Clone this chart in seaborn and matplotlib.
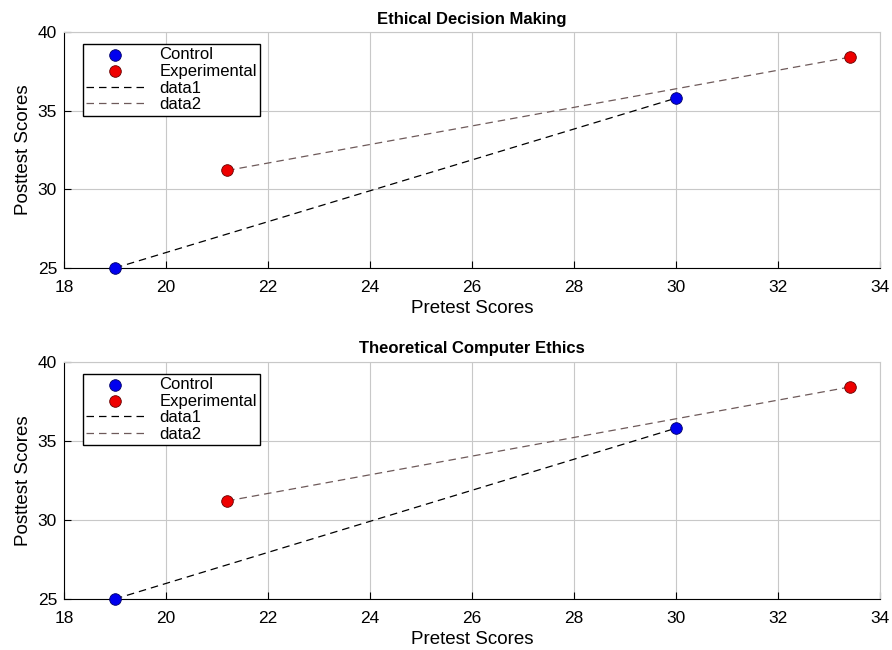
import matplotlib
matplotlib.use('Agg')
import matplotlib.pyplot as plt
import seaborn as sns
import pandas as pd

# values
titles = ['Ethical Decision Making', 'Theoretical Computer Ethics']
control_pre = [19.0, 30.0]
control_post = [25.0, 35.8]
exp_pre = [21.2, 33.4]
exp_post = [31.2, 38.4]
x_ticks = [18, 20, 22, 24, 26, 28, 30, 32, 34]
y_ticks = [25, 30, 35, 40]

sns.set_style('white')
plt.rcParams['font.family'] = ['Liberation Sans', 'DejaVu Sans']
plt.rcParams['text.color'] = 'black'
plt.rcParams['axes.labelcolor'] = 'black'

control = pd.DataFrame({'Pretest': control_pre, 'Posttest': control_post})
experimental = pd.DataFrame({'Pretest': exp_pre, 'Posttest': exp_post})

fig = plt.figure(figsize=[8.92, 6.5], dpi=100)
axes = [fig.add_axes([0.0717, 0.5877, 0.915, 0.363]),
        fig.add_axes([0.0717, 0.0785, 0.915, 0.365])]

for ax, title in zip(axes, titles):
    # dashed connecting lines
    sns.lineplot(data=control, x='Pretest', y='Posttest', ax=ax, color='black',
                 linestyle=(0, (6, 4)), linewidth=0.9, estimator=None, sort=False,
                 label='data1', dashes=False)
    sns.lineplot(data=experimental, x='Pretest', y='Posttest', ax=ax, color='#6e5a5a',
                 linestyle=(0, (6, 4)), linewidth=0.9, estimator=None, sort=False,
                 label='data2', dashes=False)
    # points
    sns.scatterplot(data=control, x='Pretest', y='Posttest', ax=ax, color='#0000ee',
                    edgecolor='#000066', linewidth=0.6, s=70, label='Control',
                    zorder=5, clip_on=False)
    sns.scatterplot(data=experimental, x='Pretest', y='Posttest', ax=ax, color='#ee0000',
                    edgecolor='#660000', linewidth=0.6, s=70, label='Experimental',
                    zorder=5, clip_on=False)

    ax.set_xlim(18, 34)
    ax.set_ylim(25, 40)
    ax.set_xticks(x_ticks)
    ax.set_yticks(y_ticks)
    ax.grid(True, color='#c8c8c8', linewidth=0.8)
    ax.set_axisbelow(True)
    ax.tick_params(direction='in', length=5, labelsize=12.5, colors='black',
                   top=False, right=False, bottom=True, left=True)
    ax.tick_params(axis='x', pad=9)
    ax.tick_params(axis='y', pad=5)
    for side in ['top', 'right']:
        ax.spines[side].set_color('#c8c8c8')
    for side in ['left', 'bottom']:
        ax.spines[side].set_color('black')
    ax.set_title(title, fontsize=12, fontweight='bold', pad=6, color='black')
    ax.set_xlabel('Pretest Scores', fontsize=13.5, labelpad=3)
    ax.set_ylabel('Posttest Scores', fontsize=13.5, labelpad=4)

    handles, labels = ax.get_legend_handles_labels()
    order = [labels.index(k) for k in ['Control', 'Experimental', 'data1', 'data2']]
    ax.legend([handles[k] for k in order], [labels[k] for k in order],
              loc='upper left', bbox_to_anchor=(0.023, 0.95), fontsize=12,
              frameon=True, fancybox=False, edgecolor='black', framealpha=1,
              borderpad=0.2, labelspacing=0.1, handlelength=3.5,
              handletextpad=0.9, borderaxespad=0)

fig.savefig('out.png', dpi=100)
